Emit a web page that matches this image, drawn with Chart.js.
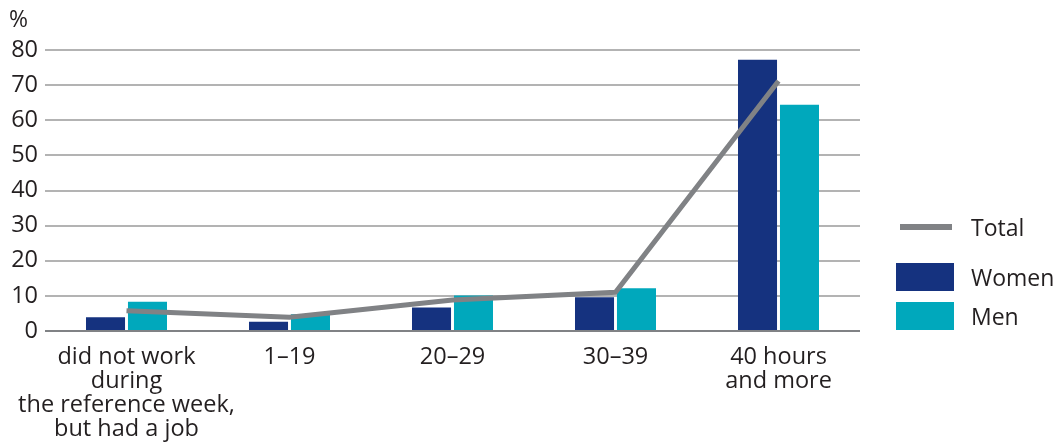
<!DOCTYPE html>
<html lang="en">
<head>
  <meta charset="UTF-8" />
  <title>Working hours – women and men</title>
  <script src="https://cdn.jsdelivr.net/npm/chart.js"></script>
  <style>
    * { box-sizing: border-box; margin: 0; padding: 0; }
    body { width: 1058px; height: 443px; background: #fff; font-family: "Open Sans", sans-serif; color: #231f20; overflow: hidden; }
    .wrap { position: relative; width: 1058px; height: 443px; }
    #pct { position: absolute; left: 9px; top: 2px; font-size: 23px; }
    .legend { position: absolute; left: 896px; top: 0; }
    .legend .item { position: absolute; left: 0; width: 162px; height: 30px; }
    .legend .sw { position: absolute; left: 0; }
    .legend .lbl { position: absolute; left: 75px; font-size: 23px; line-height: 30px; top: 0; }
  </style>
</head>
<body>
  <div class="wrap">
    <canvas id="chart" width="1058" height="443"></canvas>
    <div id="pct">%</div>
    <div class="legend">
      <div class="item" style="top:212px">
        <div class="sw" style="left:4px;top:12px;width:52px;height:6px;background:#808285"></div>
        <span class="lbl">Total</span>
      </div>
      <div class="item" style="top:262px">
        <div class="sw" style="top:1px;width:58px;height:28px;background:#15327f"></div>
        <span class="lbl">Women</span>
      </div>
      <div class="item" style="top:301px">
        <div class="sw" style="top:1px;width:58px;height:28px;background:#00a8bc"></div>
        <span class="lbl">Men</span>
      </div>
    </div>
  </div>
  <script>
    const categories = [
      ["did not work", "during", "the reference week,", "but had a job"],
      "1–19",
      "20–29",
      "30–39",
      ["40 hours", "and more"]
    ];
    const women = [3.9, 2.6, 6.7, 9.6, 77.2];
    const men = [8.3, 4.8, 10.1, 12.2, 64.4];
    const total = [5.8, 3.9, 8.8, 11.0, 71.2];
    const yTicks = [0, 10, 20, 30, 40, 50, 60, 70, 80];

    const xFont = { family: "'Open Sans', sans-serif", size: 23.5, lineHeight: 1.02 };
    const yFont = { family: "'Open Sans', sans-serif", size: 23.5 };

    new Chart(document.getElementById("chart"), {
      data: {
        labels: categories,
        datasets: [
          { type: "line", label: "Total", data: total, borderColor: "#808285", borderWidth: 5,
            pointRadius: 0, fill: false, tension: 0, order: 0 },
          { type: "bar", label: "Women", data: women, backgroundColor: "#15327f",
            barPercentage: 0.93, categoryPercentage: 0.515, order: 1 },
          { type: "bar", label: "Men", data: men, backgroundColor: "#00a8bc",
            barPercentage: 0.93, categoryPercentage: 0.515, order: 1 }
        ]
      },
      options: {
        responsive: false,
        animation: false,
        layout: { padding: { top: 50, right: 198, left: 0, bottom: 0 } },
        plugins: { legend: { display: false }, tooltip: { enabled: false } },
        scales: {
          x: {
            grid: { display: false },
            border: { display: false },
            ticks: { color: "#231f20", font: xFont, maxRotation: 0, autoSkip: false, padding: 6 },
            afterFit: s => { s.height = 112; }
          },
          y: {
            min: 0, max: 80,
            afterBuildTicks: s => { s.ticks = yTicks.map(v => ({ value: v })); },
            grid: {
              color: c => c.tick.value === 0 ? "#808285" : "#b3b3b3",
              lineWidth: 2, drawTicks: false
            },
            border: { display: false },
            ticks: { color: "#231f20", font: yFont, padding: 7 },
            afterFit: s => { s.width = 45; }
          }
        }
      }
    });
  </script>
</body>
</html>
